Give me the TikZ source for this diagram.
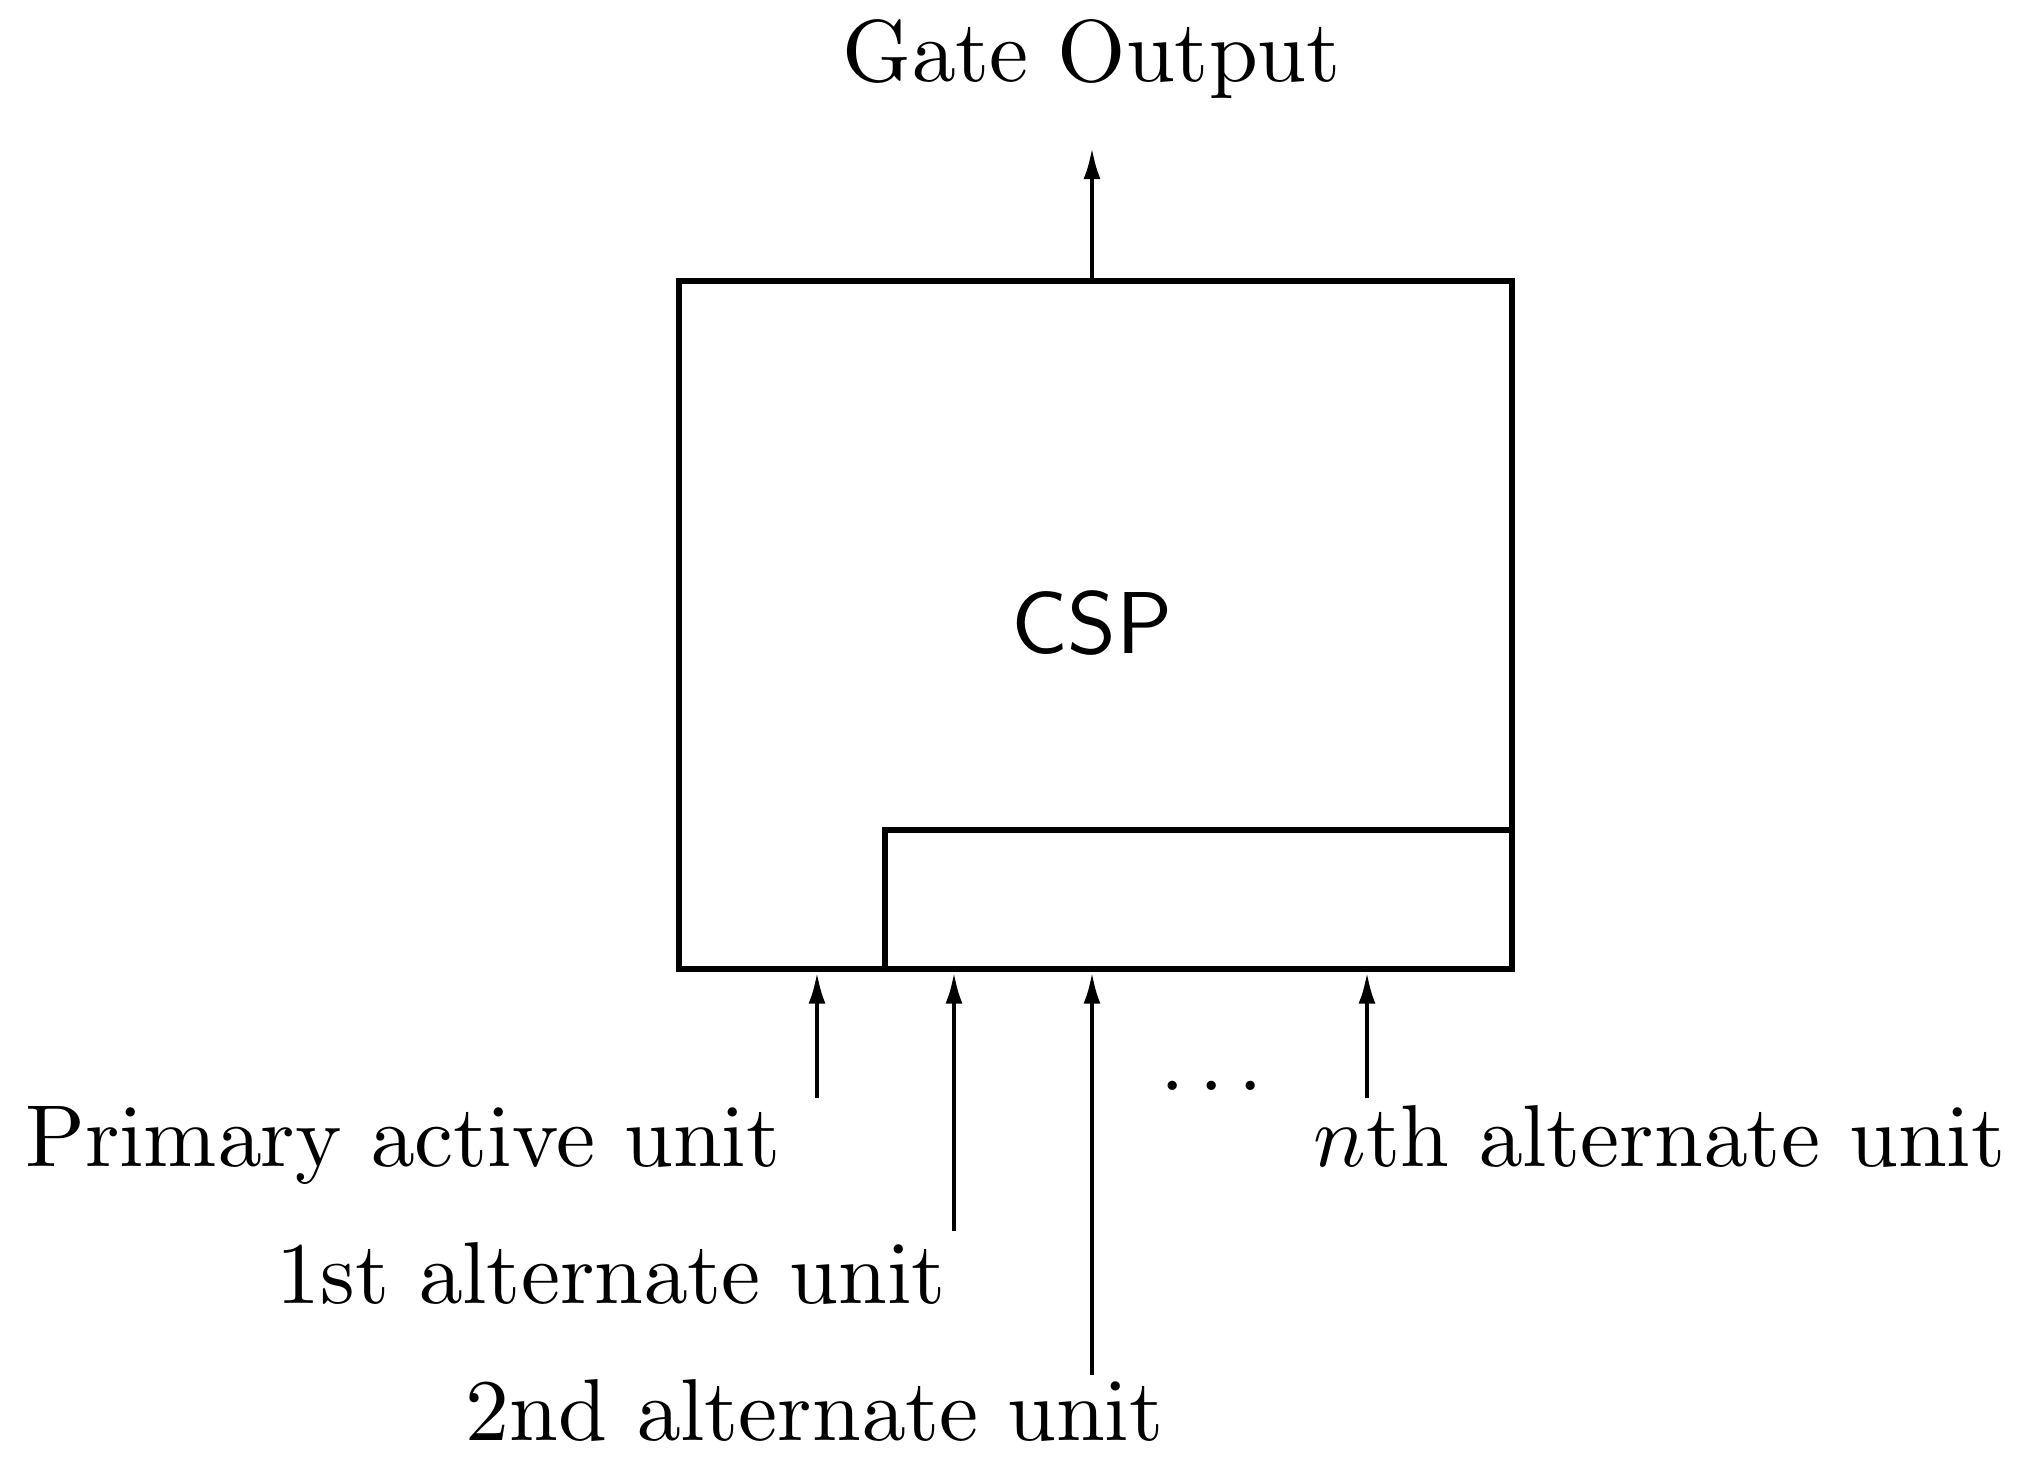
\documentclass[tikz,border=0pt]{standalone}
\usetikzlibrary{arrows.meta}
\font\labrm=cmr10 at 25pt
\font\labmi=cmmi10 at 25pt
\font\labss=cmss10 at 25pt
\tikzset{
  boxline/.style={draw, line width=1.6pt, inner sep=0pt},
  arr/.style={line width=1.3pt, -{Latex[length=0.32cm,width=0.17cm]}},
  lab/.style={inner sep=0pt, font=\labrm}
}
\begin{document}
\begin{tikzpicture}
\useasboundingbox (0,0) rectangle (20.43,-14.65);
% main box
\node[boxline, anchor=north west, minimum width=8.33cm, minimum height=6.88cm] (csp) at (6.76,-2.78) {};
\node[boxline, anchor=south east, minimum width=6.27cm, minimum height=1.39cm] (sub) at (csp.south east) {};
\node[inner sep=0pt, font=\labss] (csplab) at (10.92,-6.23) {CSP};
% output
\coordinate (out) at (10.92,-1.47);
\draw[arr] (out |- csp.north) -- (out);
\node[lab, anchor=base] (gate) at (10.92,-0.81) {Gate Output};
% inputs
\coordinate (t0) at (8.17,-10.98);
\coordinate (t1) at (9.54,-12.31);
\coordinate (t2) at (10.92,-13.75);
\coordinate (tn) at (13.67,-10.98);
\draw[arr] (t0) -- (t0 |- csp.south);
\draw[arr] (t1) -- (t1 |- csp.south);
\draw[arr] (t2) -- (t2 |- csp.south);
\draw[arr] (tn) -- (tn |- csp.south);
\node[lab, anchor=base east] (l0) at (7.82,-11.66) {Primary active unit};
\node[lab, anchor=base east] (l1) at (9.47,-13.03) {1st alternate unit};
\node[lab, anchor=base] (l2) at (8.15,-14.40) {2nd alternate unit};
\node[lab, anchor=base west] (ln) at (13.13,-11.66) {{\labmi n}th alternate unit};
\node[lab, anchor=base] (dots) at (12.12,-10.90) {.\kern4.2pt.\kern4.2pt.};
\end{tikzpicture}
\end{document}
